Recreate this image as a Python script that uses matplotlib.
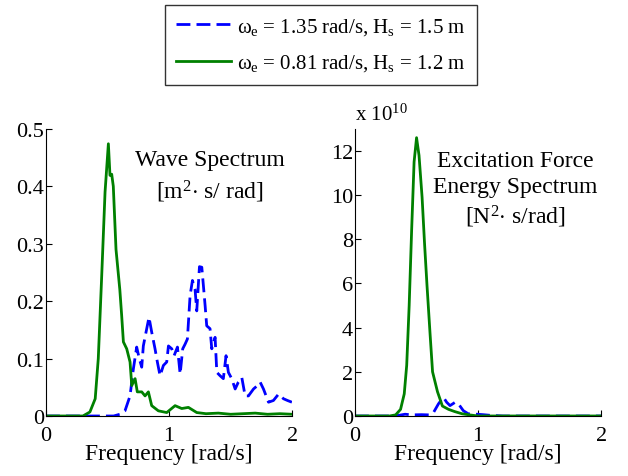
import matplotlib
matplotlib.use("Agg")
import matplotlib.pyplot as plt

plt.rcParams["font.family"] = ["Liberation Serif", "DejaVu Serif"]
plt.rcParams["mathtext.fontset"] = "custom"
plt.rcParams["mathtext.rm"] = "Liberation Serif"
plt.rcParams["mathtext.it"] = "Liberation Serif"

# wave spectrum [m^2 s/rad]
wave_f_a = [0.0, 0.55, 0.60, 0.642, 0.683, 0.71, 0.737, 0.759, 0.778, 0.791, 0.813, 0.837,
            0.859, 0.886, 0.905, 0.927, 0.954, 0.981, 0.995, 1.022, 1.041, 1.068, 1.09,
            1.111, 1.13, 1.149, 1.171, 1.19, 1.211, 1.225, 1.247, 1.266, 1.279, 1.293,
            1.306, 1.333, 1.347, 1.374, 1.388, 1.415, 1.441, 1.463, 1.482, 1.509, 1.537,
            1.563, 1.591, 1.618, 1.645, 1.686, 1.718, 1.74, 1.767, 1.808, 1.848, 1.889,
            1.93, 1.962, 1.998]
wave_s_a = [0.0, 0.0, 0.003, 0.009, 0.035, 0.082, 0.12, 0.099, 0.085, 0.122, 0.146, 0.172,
            0.146, 0.117, 0.094, 0.07, 0.088, 0.094, 0.122, 0.117, 0.105, 0.12, 0.073,
            0.117, 0.125, 0.134, 0.21, 0.236, 0.221, 0.183, 0.26, 0.259, 0.227, 0.192,
            0.157, 0.152, 0.117, 0.137, 0.076, 0.07, 0.065, 0.105, 0.076, 0.065, 0.047,
            0.059, 0.067, 0.035, 0.035, 0.047, 0.053, 0.059, 0.047, 0.024, 0.027, 0.038,
            0.03, 0.027, 0.024]
wave_f_b = [0.0, 0.30, 0.357, 0.40, 0.425, 0.453, 0.48, 0.507, 0.52, 0.534, 0.547, 0.569,
            0.60, 0.615, 0.629, 0.656, 0.683, 0.697, 0.724, 0.742, 0.778, 0.805, 0.832,
            0.859, 0.913, 0.981, 1.049, 1.103, 1.157, 1.225, 1.30, 1.40, 1.50, 1.60,
            1.70, 1.80, 1.90, 2.0]
wave_s_b = [0.0, 0.0, 0.007, 0.03, 0.10, 0.245, 0.39, 0.474, 0.419, 0.421, 0.40, 0.29,
            0.22, 0.175, 0.129, 0.117, 0.094, 0.053, 0.065, 0.042, 0.042, 0.035, 0.042,
            0.018, 0.009, 0.006, 0.018, 0.013, 0.015, 0.006, 0.004, 0.005, 0.003, 0.004,
            0.005, 0.003, 0.004, 0.003]

# excitation force energy spectrum [x 1e10 N^2 s/rad]
force_f_a = [0.0, 0.33, 0.366, 0.407, 0.46, 0.54, 0.60, 0.637, 0.678, 0.718, 0.745, 0.772,
             0.813, 0.84, 0.88, 0.92, 0.99, 1.04, 1.10, 1.20, 2.0]
force_s_a = [0.0, 0.0, 0.04, 0.08, 0.05, 0.06, 0.05, 0.15, 0.55, 0.85, 0.62, 0.47,
             0.62, 0.55, 0.24, 0.1, 0.08, 0.06, 0.03, 0.0, 0.0]
force_f_b = [0.0, 0.28, 0.33, 0.37, 0.40, 0.42, 0.44, 0.46, 0.48, 0.50, 0.52, 0.545,
             0.565, 0.585, 0.61, 0.63, 0.67, 0.71, 0.76, 0.81, 0.87, 0.93, 1.0, 2.0]
force_s_b = [0.0, 0.0, 0.05, 0.3, 1.0, 2.3, 5.0, 8.4, 11.5, 12.6, 11.8, 9.9,
             7.8, 5.9, 3.7, 2.0, 1.1, 0.45, 0.3, 0.2, 0.1, 0.05, 0.0, 0.0]

labels = [r"$\omega_{\mathrm{e}}$ = 1.35 rad/s, H$_{\mathrm{s}}$ = 1.5 m",
          r"$\omega_{\mathrm{e}}$ = 0.81 rad/s, H$_{\mathrm{s}}$ = 1.2 m"]
blue, green = "#0000ff", "#008000"
dash = (5, 2.2)

fig = plt.figure(figsize=(6.28, 4.77), dpi=100)
ax1 = fig.add_axes([0.0732, 0.1258, 0.392, 0.602])
ax2 = fig.add_axes([0.5653, 0.1258, 0.392, 0.602])

la, = ax1.plot(wave_f_a, wave_s_a, color=blue, lw=2, dashes=dash)
lb, = ax1.plot(wave_f_b, wave_s_b, color=green, lw=2)
ax2.plot(force_f_a, force_s_a, color=blue, lw=2, dashes=dash)
ax2.plot(force_f_b, force_s_b, color=green, lw=2)

ax1.set_ylim(0, 0.5)
ax1.set_yticks([0, 0.1, 0.2, 0.3, 0.4, 0.5])
ax1.set_yticklabels(["0", "0.1", "0.2", "0.3", "0.4", "0.5"])
ax2.set_ylim(0, 13)
ax2.set_yticks([0, 2, 4, 6, 8, 10, 12])

for ax in (ax1, ax2):
    ax.set_xlim(0, 2)
    ax.set_xticks([0, 1, 2])
    ax.set_xlabel("Frequency [rad/s]", fontsize=17, labelpad=-1)
    ax.spines["top"].set_visible(False)
    ax.spines["right"].set_visible(False)
    ax.tick_params(direction="in", labelsize=16, length=4)
    ax.tick_params(axis="y", pad=1.5)
    ax.tick_params(axis="x", pad=7)

ax1.text(0.665, 0.93, "Wave Spectrum\n[m$^2$$\\cdot$ s/ rad]", transform=ax1.transAxes,
         ha="center", va="top", fontsize=17, linespacing=1.4)
ax2.text(0.65, 0.925, "Excitation Force\nEnergy Spectrum\n[N$^2$$\\cdot$ s/rad]",
         transform=ax2.transAxes, ha="center", va="top", fontsize=17, linespacing=1.3)
ax2.text(0.0, 1.015, r"x 10$^{10}$", transform=ax2.transAxes, ha="left",
         va="bottom", fontsize=15)

leg = fig.legend([la, lb], labels, loc="upper center", bbox_to_anchor=(0.511, 0.997),
                 fontsize=15, frameon=True, fancybox=False, edgecolor="black",
                 handlelength=2.6, handletextpad=0.3, borderpad=0.55, labelspacing=0.75,
                 borderaxespad=0.2)
leg.get_frame().set_linewidth(1.0)

fig.savefig("out.png", dpi=100)
